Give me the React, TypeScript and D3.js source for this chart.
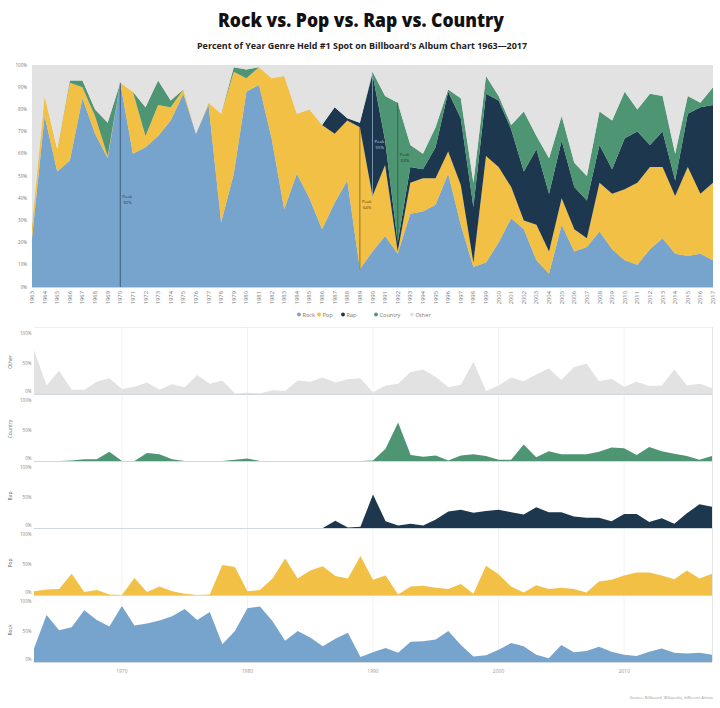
import * as d3 from "d3";

// Share of the year each genre held the #1 album spot, 1963-2017 (percent)
const years = d3.range(1963, 2018);

const rock = [
  22, 77, 52, 57, 85, 69, 58, 92, 60, 63, 68, 75, 87, 69, 82, 29, 51, 88, 91, 67,
  35, 51, 40, 26, 38, 48, 8, 16, 23, 15, 33, 34, 37, 51, 28, 9, 11, 20, 31, 26,
  12, 6, 28, 16, 18, 25, 17, 12, 10, 17, 22, 15, 14, 15, 12,
];
const pop = [
  6, 9, 10, 35, 5, 8, 1, 0, 28, 5, 14, 6, 2, 0, 1, 49, 46, 6, 8, 27,
  60, 27, 40, 47, 31, 27, 64, 25, 32, 1, 14, 15, 12, 10, 18, 2, 48, 34, 14, 4,
  16, 10, 12, 10, 4, 22, 25, 32, 37, 37, 32, 26, 40, 27, 35,
];
const rap = [
  0, 0, 0, 0, 0, 0, 0, 0, 0, 0, 0, 0, 0, 0, 0, 0, 0, 0, 0, 0,
  0, 0, 0, 0, 12, 1, 2, 55, 11, 4, 7, 4, 14, 27, 30, 25, 28, 30, 26, 22,
  34, 26, 26, 19, 17, 17, 11, 23, 23, 10, 16, 7, 24, 39, 35,
];
const country = [
  0, 0, 0, 1, 3, 3, 15, 0, 0, 13, 11, 3, 0, 0, 0, 0, 2, 4, 0, 0,
  0, 0, 0, 0, 0, 0, 0, 1, 20, 63, 10, 7, 9, 1, 9, 11, 8, 2, 2, 27,
  6, 16, 11, 11, 11, 15, 22, 21, 10, 23, 16, 12, 8, 2, 8,
];
const other = [
  72, 14, 38, 7, 7, 20, 26, 8, 12, 19, 7, 16, 11, 31, 17, 22, 1, 2, 1, 6,
  5, 22, 20, 27, 19, 24, 26, 3, 14, 17, 36, 40, 28, 11, 15, 53, 5, 14, 27, 21,
  32, 42, 23, 44, 50, 21, 25, 12, 20, 13, 14, 40, 14, 17, 10,
];

const genres = [
  { key: "rock", label: "Rock", color: "#76A4CD", values: rock, ink: "#1f3a55", rule: "#2c4a6a" },
  { key: "pop", label: "Pop", color: "#F2C045", values: pop, ink: "#5a4512", rule: "#7a5e1a" },
  { key: "rap", label: "Rap", color: "#1D374E", values: rap, ink: "#c9d6e2", rule: "#8fa9c0" },
  { key: "country", label: "Country", color: "#4E9573", values: country, ink: "#173a2a", rule: "#2a5e45" },
  { key: "other", label: "Other", color: "#E2E2E2", values: other, ink: "#555", rule: "#999" },
];

// where the "Peak" notes sit inside their band, in percent
const peakNotes = [
  { key: "rock", labelAt: 40 },
  { key: "pop", labelAt: 38 },
  { key: "rap", labelAt: 65 },
  { key: "country", labelAt: 59 },
];

const panelOrder = ["other", "country", "rap", "pop", "rock"];
const panelTicks = [0, 50, 100];
const decadeTicks = [1970, 1980, 1990, 2000, 2010];
const stackTicks = d3.range(0, 101, 10);

const font = "'Open Sans', 'Noto Sans', sans-serif";

export default function App() {
  const W = 720;
  const H = 708;

  // stacked chart
  const x = d3.scaleLinear().domain([1963, 2017]).range([32, 713]);
  const y = d3.scaleLinear().domain([0, 100]).range([287, 65]);

  const rows = years.map((yr, i) => {
    const row: Record<string, number> = { year: yr };
    genres.forEach((g) => (row[g.key] = g.values[i]));
    return row;
  });
  const series = d3.stack<Record<string, number>>().keys(genres.map((g) => g.key))(rows);
  const stackArea = d3
    .area<d3.SeriesPoint<Record<string, number>>>()
    .x((d) => x(d.data.year))
    .y0((d) => y(d[0]))
    .y1((d) => y(d[1]));

  // small multiples
  const xs = d3.scaleLinear().domain([1963, 2017]).range([34, 712]);
  const panelH = 67;
  const firstBase = 394;

  const legendItems = [
    { key: "rock", x: 299 },
    { key: "pop", x: 319 },
    { key: "rap", x: 343 },
    { key: "country", x: 376 },
    { key: "other", x: 412 },
  ];

  return (
    <div style={{ position: "absolute", left: 0, top: 0 }}>
      <svg width={W} height={H} style={{ display: "block", background: "#fff" }} fontFamily={font}>
        <text x={361} y={27} textAnchor="middle" fontSize={19} fontWeight={800} fill="#111"
          textLength={286} lengthAdjust="spacingAndGlyphs">
          Rock vs. Pop vs. Rap vs. Country
        </text>
        <text x={362} y={49} textAnchor="middle" fontSize={8.5} fontWeight={700} fill="#222"
          textLength={330} lengthAdjust="spacingAndGlyphs">
          Percent of Year Genre Held #1 Spot on Billboard's Album Chart 1963—2017
        </text>

        {/* stacked area */}
        <defs>
          <clipPath id="plot-clip">
            <rect x={32} y={65} width={681} height={222} />
          </clipPath>
        </defs>
        <rect x={32} y={65} width={681} height={222} fill="#E2E2E2" />
        <g clipPath="url(#plot-clip)">
          {series.map((s, i) => (
            <path key={s.key} d={stackArea(s) ?? ""} fill={genres[i].color} />
          ))}
        </g>
        <line x1={32} x2={713} y1={287.5} y2={287.5} stroke="#c9d3dc" />

        {stackTicks.map((t) => (
          <text key={t} x={27} y={y(t) + 1.5} textAnchor="end" fontSize={4.5} fill="#777">
            {t}%
          </text>
        ))}
        {years.map((yr) => (
          <text key={yr} transform={`translate(${x(yr) + 2},291) rotate(-90)`} textAnchor="end"
            fontSize={5.8} fill="#777">
            {yr}
          </text>
        ))}

        {peakNotes.map((n) => {
          const gi = genres.findIndex((g) => g.key === n.key);
          const g = genres[gi];
          const idx = d3.maxIndex(g.values);
          const pt = series[gi][idx];
          const px = x(years[idx]);
          return (
            <g key={n.key}>
              <line x1={px} x2={px} y1={y(pt[0])} y2={y(pt[1])} stroke={g.rule} strokeWidth={0.8} />
              <text x={px + 2} y={y(n.labelAt)} fontSize={4.3} fill={g.ink}>
                <tspan>Peak</tspan>
                <tspan x={px + 3} dy={6}>{g.values[idx]}%</tspan>
              </text>
            </g>
          );
        })}

        {/* legend */}
        {legendItems.map((it) => {
          const g = genres.find((gg) => gg.key === it.key)!;
          return (
            <g key={it.key}>
              <circle cx={it.x} cy={314.5} r={1.9} fill={g.color} />
              <text x={it.x + 3.5} y={316.5} fontSize={5.6} fill="#777">
                {g.label}
              </text>
            </g>
          );
        })}

        {/* small multiples */}
        <line x1={34} x2={712} y1={firstBase - panelH + 0.5} y2={firstBase - panelH + 0.5} stroke="#eeeeee" />
        {decadeTicks.map((t) => (
          <line key={t} x1={xs(t)} x2={xs(t)} y1={firstBase - panelH} y2={firstBase + 4 * panelH}
            stroke="#efefef" strokeWidth={0.8} />
        ))}
        <line x1={712.5} x2={712.5} y1={firstBase - panelH} y2={firstBase + 4 * panelH} stroke="#e6e6e6" />
        {panelOrder.map((key, k) => {
          const g = genres.find((gg) => gg.key === key)!;
          const base = firstBase + k * panelH;
          const yp = d3.scaleLinear().domain([0, 100]).range([base, base - 61]);
          const area = d3
            .area<number>()
            .x((_, i) => xs(years[i]))
            .y0(base)
            .y1((d) => yp(d));
          return (
            <g key={key}>
              <path d={area(g.values) ?? ""} fill={g.color} />
              <line x1={34} x2={712} y1={base + 0.5} y2={base + 0.5} stroke="#cfd7df" />
              {panelTicks.map((t) => (
                <text key={t} x={31.5} y={yp(t) + (t === 0 ? -1 : 1.5)} textAnchor="end" fontSize={4.5} fill="#888">
                  {t}%
                </text>
              ))}
              <text transform={`translate(12,${base - 32}) rotate(-90)`} textAnchor="middle" fontSize={5}
                fill="#666">
                {g.label}
              </text>
            </g>
          );
        })}
        {decadeTicks.map((t) => (
          <text key={t} x={xs(t)} y={672.5} textAnchor="middle" fontSize={5} fill="#999">
            {t}
          </text>
        ))}

        <text x={713} y={699} textAnchor="end" fontSize={4} fill="#999">
          Source: Billboard, Wikipedia, different Artists
        </text>
      </svg>
    </div>
  );
}
